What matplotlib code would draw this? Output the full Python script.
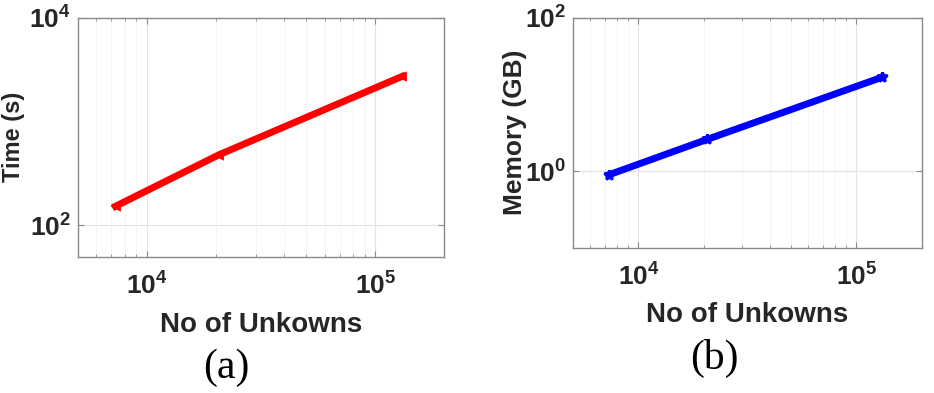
import math
import matplotlib
matplotlib.use("Agg")
import matplotlib.pyplot as plt
from matplotlib.ticker import FixedLocator, LogLocator, FuncFormatter, NullFormatter

plt.rcParams["font.family"] = ["Liberation Sans", "DejaVu Sans"]
plt.rcParams["mathtext.fontset"] = "custom"
plt.rcParams["mathtext.bf"] = "Liberation Sans:bold"
plt.rcParams["mathtext.rm"] = "Liberation Sans:bold"

# data
unknowns = [7300, 20700, 131000]
time_s = [153, 479, 2720]
memory_gb = [0.89, 2.59, 16.7]

xlab = "No of Unkowns"
ylab_a = "Time (s)"
ylab_b = "Memory (GB)"

fig = plt.figure(figsize=(9.34, 3.93), dpi=100)

ax1 = fig.add_axes([0.0835, 0.3468, 0.3919, 0.6082])
ax2 = fig.add_axes([0.6132, 0.3697, 0.3740, 0.5853])


def sci(v, pos):
    if v <= 0:
        return ""
    e = int(round(math.log10(v)))
    return r"$\mathbf{10^{%d}}$" % e


def style(ax, ylim, yticks, xlabel_y, ylabel_xy):
    ax.set_xscale("log")
    ax.set_yscale("log")
    ax.set_xlim(5e3, 2e5)
    ax.set_ylim(*ylim)
    ax.xaxis.set_major_locator(FixedLocator([1e4, 1e5]))
    ax.xaxis.set_minor_locator(LogLocator(base=10, subs=range(2, 10)))
    ax.xaxis.set_minor_formatter(NullFormatter())
    ax.yaxis.set_major_locator(FixedLocator(yticks))
    ax.yaxis.set_minor_locator(FixedLocator([]))
    ax.xaxis.set_major_formatter(FuncFormatter(sci))
    ax.yaxis.set_major_formatter(FuncFormatter(sci))
    ax.grid(True, which="major", color="#e3e3e3", linewidth=0.8)
    ax.grid(True, which="minor", axis="x", color="#e3e3e3", linewidth=0.7, linestyle=":")
    ax.set_axisbelow(True)
    for s in ax.spines.values():
        s.set_color("#8a8a8a")
        s.set_linewidth(1.0)
    ax.tick_params(which="both", direction="in", top=True, right=True,
                   color="#8a8a8a", labelcolor="#262626", labelsize=19)
    ax.tick_params(which="major", length=4)
    ax.tick_params(which="minor", length=2.5)
    ax.tick_params(axis="x", pad=11)
    ax.tick_params(axis="y", pad=5)
    ax.set_xlabel(xlab, fontsize=20, fontweight="bold", color="#262626")
    ax.xaxis.set_label_coords(0.5, xlabel_y)
    ax.yaxis.set_label_coords(*ylabel_xy)


style(ax1, (50, 1e4), [1e2, 1e4], -0.23, (-0.145, 0.51))
ax1.set_ylabel(ylab_a, fontsize=17, fontweight="bold", color="#262626")
ax1.plot(unknowns, time_s, color="red", linewidth=5, marker="<",
         markersize=5, markeredgewidth=2)

style(ax2, (0.1, 100), [1e0, 1e2], -0.235, (-0.131, 0.533))
ax2.set_ylabel(ylab_b, fontsize=19, fontweight="bold", color="#262626")
ax2.plot(unknowns, memory_gb, color="blue", linewidth=5, marker="*",
         markersize=7, markeredgewidth=2)

fig.text(226 / 934, 1 - 368 / 393, "(a)", fontsize=30, family="Liberation Serif",
         ha="center", va="center", color="black")
fig.text(714 / 934, 1 - 358 / 393, "(b)", fontsize=30, family="Liberation Serif",
         ha="center", va="center", color="black")

plt.savefig("out.png", dpi=100)
